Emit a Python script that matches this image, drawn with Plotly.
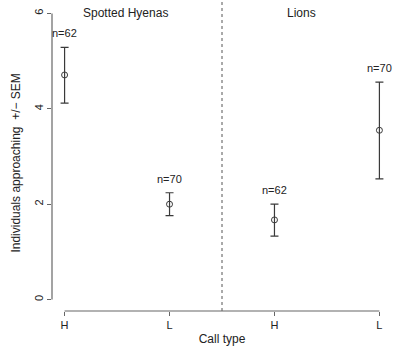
import plotly.graph_objects as go

categories = ["H", "L", "H", "L"]
xpos = [1, 2, 3, 4]
means = [4.71, 2.00, 1.67, 3.55]
upper = [5.29, 2.24, 2.00, 4.56]
lower = [4.12, 1.76, 1.33, 2.53]
n_labels = ["n=62", "n=70", "n=62", "n=70"]
group_names = ["Spotted Hyenas", "Lions"]
group_centers = [1.58, 3.26]
divider_x = 2.5
yticks = [0, 2, 4, 6]

FONT = "Liberation Sans, Arial, sans-serif"
INK = "#3a3a3a"

fig = go.Figure()
fig.add_trace(go.Scatter(
    x=xpos, y=means, mode="markers",
    marker=dict(symbol="circle-open", size=6, color=INK, line=dict(width=1, color=INK)),
    error_y=dict(type="data", symmetric=False,
                 array=[u - m for u, m in zip(upper, means)],
                 arrayminus=[m - l for m, l in zip(means, lower)],
                 color=INK, thickness=1.2, width=4),
    showlegend=False, hoverinfo="skip",
))

for x, u, lab in zip(xpos, upper, n_labels):
    fig.add_annotation(x=x, y=u, text=lab, showarrow=False, yshift=14,
                       font=dict(family=FONT, size=11, color="#222"))

for name, cx in zip(group_names, group_centers):
    fig.add_annotation(x=cx, y=6.0, text=name, showarrow=False, yshift=0,
                       font=dict(family=FONT, size=12, color="#222"))

# y-axis title
fig.add_annotation(xref="paper", yref="paper", x=0, y=0.477, xshift=-36,
                   xanchor="center", yanchor="middle",
                   text="Individuals approaching  +/\u2212 SEM", textangle=-90,
                   showarrow=False, font=dict(family=FONT, size=12, color="#222"))

# dotted divider
fig.add_shape(type="line", xref="x", yref="paper", x0=divider_x, x1=divider_x, y0=0, y1=1,
              line=dict(color="#555", width=1, dash="dot"))
# R-style axis lines
fig.add_shape(type="line", xref="paper", yref="y", x0=0, x1=0, y0=0, y1=6,
              line=dict(color="#666", width=1.2))
fig.add_shape(type="line", xref="x", yref="paper", x0=1, x1=4, y0=0, y1=0,
              line=dict(color="#666", width=1.2))

fig.update_xaxes(range=[0.88, 4.12], tickmode="array", tickvals=xpos, ticktext=categories,
                 ticks="outside", ticklen=4, tickcolor="#666", showline=False,
                 showgrid=False, zeroline=False,
                 tickfont=dict(family=FONT, size=11, color="#222"),
                 title=dict(text="Call type", font=dict(family=FONT, size=12, color="#222"), standoff=4))
fig.update_yaxes(range=[-0.24, 6.24], tickmode="array", tickvals=yticks,
                 ticktext=[str(t) for t in yticks], tickangle=-90,
                 ticks="outside", ticklen=4, tickcolor="#666", showline=False,
                 showgrid=False, zeroline=False,
                 tickfont=dict(family=FONT, size=11, color="#222"))

fig.update_layout(width=403, height=349, margin=dict(l=52, r=11, t=2, b=38),
                  plot_bgcolor="white", paper_bgcolor="white")
fig.write_html("out.html")
